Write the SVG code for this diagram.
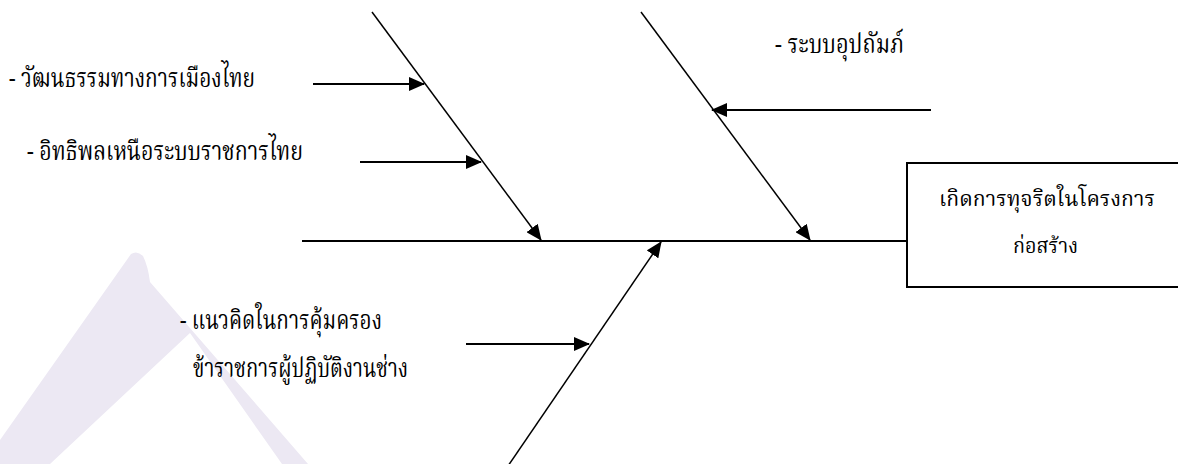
<svg xmlns="http://www.w3.org/2000/svg" width="1178" height="464" viewBox="0 0 1178 464">
  <style>
    .t { font-family: "Noto Serif Thai", "Noto Sans Thai", "Liberation Serif", "DejaVu Serif", serif; font-size: 26px; fill: #000; }
    .c { font-size: 22px; }
    .bone { stroke: #000; stroke-width: 1.5; fill: none; }
    .spine { stroke: #000; stroke-width: 2; fill: none; }
    .box { stroke: #000; stroke-width: 2; fill: #fff; }
  </style>
  <defs>
    <marker id="ah" markerUnits="userSpaceOnUse" markerWidth="16" markerHeight="14" refX="15" refY="7" orient="auto">
      <path d="M0,0 L16,7 L0,14 Z" fill="#000"/>
    </marker>
  </defs>
  <rect width="1178" height="464" fill="#fff"/>
  <g id="watermark">
    <path d="M0,440 L131,254 Q137,250 143,256 Q148,266 150,282 L308,464 L282,464 L190,333 L50,464 L0,464 Z" fill="#ECE8F3"/>
  </g>
  <g id="connectors">
    <line class="spine" x1="302" y1="241" x2="907" y2="241"/>
    <line class="bone" x1="372" y1="12" x2="541" y2="240" marker-end="url(#ah)"/>
    <line class="bone" x1="641" y1="12" x2="810" y2="240" marker-end="url(#ah)"/>
    <line class="bone" x1="508" y1="466" x2="661" y2="242" marker-end="url(#ah)"/>
    <line class="spine" x1="313" y1="84" x2="424" y2="84" marker-end="url(#ah)"/>
    <line class="spine" x1="360" y1="162" x2="481" y2="162" marker-end="url(#ah)"/>
    <line class="spine" x1="931" y1="110" x2="712" y2="110" marker-end="url(#ah)"/>
    <line class="spine" x1="466" y1="344" x2="589" y2="344" marker-end="url(#ah)"/>
  </g>
  <g id="cause-1">
    <text class="t" x="9" y="87" textLength="246" lengthAdjust="spacingAndGlyphs">- วัฒนธรรมทางการเมืองไทย</text>
  </g>
  <g id="cause-2">
    <text class="t" x="27" y="160" textLength="276" lengthAdjust="spacingAndGlyphs">- อิทธิพลเหนือระบบราชการไทย</text>
  </g>
  <g id="cause-3">
    <text class="t" x="775" y="53" textLength="129" lengthAdjust="spacingAndGlyphs">- ระบบอุปถัมภ์</text>
  </g>
  <g id="cause-4">
    <text class="t" x="180" y="329" textLength="202" lengthAdjust="spacingAndGlyphs">- แนวคิดในการคุ้มครอง</text>
    <text class="t" x="193" y="377" textLength="215" lengthAdjust="spacingAndGlyphs">ข้าราชการผู้ปฏิบัติงานช่าง</text>
  </g>
  <g id="effect">
    <path class="box" d="M1178,163 H907 V287 H1178"/>
    <text class="t c" x="939" y="206" textLength="216" lengthAdjust="spacingAndGlyphs">เกิดการทุจริตในโครงการ</text>
    <text class="t c" x="1013" y="253" textLength="65" lengthAdjust="spacingAndGlyphs">ก่อสร้าง</text>
  </g>
</svg>
